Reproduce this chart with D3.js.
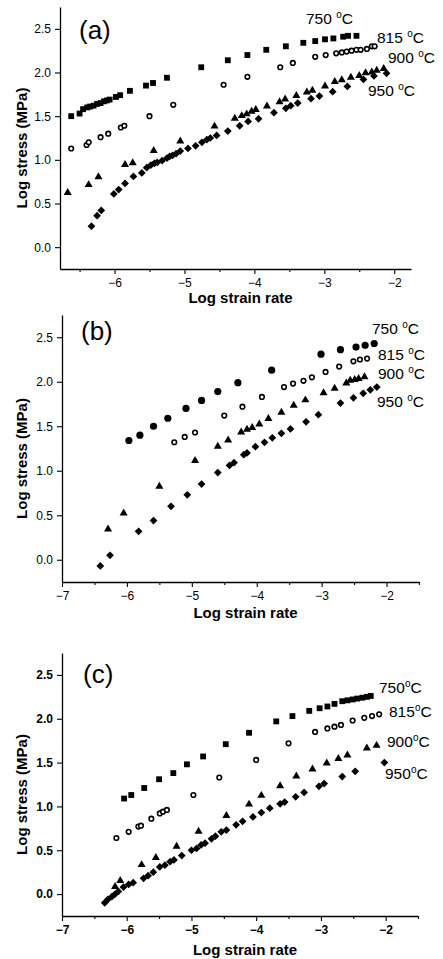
<!DOCTYPE html>
<html><head><meta charset="utf-8">
<script src="https://cdn.jsdelivr.net/npm/d3@7"></script>
<style>
html,body{margin:0;padding:0;background:#fff;}
svg{display:block;font-family:"Liberation Sans",Arial,sans-serif;}
</style></head>
<body><svg id="chart" width="443" height="959"></svg>
<script>
// ---------- DATA ----------
const temps = ["750", "815", "900", "950"];
const yTicks = [0.0, 0.5, 1.0, 1.5, 2.0, 2.5];
const xTicksA = [-6, -5, -4, -3, -2];
const xTicksBC = [-7, -6, -5, -4, -3, -2];

// panel (a)
const a750x = [-6.62,-6.50,-6.45,-6.39,-6.35,-6.30,-6.25,-6.20,-6.15,-6.11,-6.07,-5.98,-5.92,-5.78,-5.55,-5.45,-5.25,-4.76,-4.38,-4.10,-3.83,-3.55,-3.30,-3.13,-2.99,-2.87,-2.73,-2.66,-2.54];
const a750y = [1.50,1.53,1.58,1.60,1.61,1.62,1.64,1.65,1.67,1.68,1.69,1.72,1.74,1.79,1.85,1.88,1.94,2.06,2.14,2.20,2.26,2.30,2.34,2.36,2.38,2.39,2.41,2.42,2.42];
const a815x = [-6.62,-6.40,-6.37,-6.20,-6.09,-5.91,-5.86,-5.50,-5.16,-4.44,-4.10,-3.63,-3.45,-3.13,-2.98,-2.83,-2.75,-2.68,-2.61,-2.54,-2.48,-2.39,-2.32,-2.28];
const a815y = [1.13,1.17,1.20,1.26,1.30,1.37,1.39,1.50,1.63,1.86,1.95,2.06,2.11,2.18,2.20,2.22,2.23,2.24,2.25,2.26,2.26,2.27,2.30,2.30];
const a900x = [-6.67,-6.37,-6.23,-5.85,-5.74,-5.44,-5.06,-4.57,-4.28,-4.18,-4.11,-4.04,-3.98,-3.82,-3.64,-3.56,-3.40,-3.25,-3.17,-2.99,-2.85,-2.75,-2.62,-2.50,-2.41,-2.32,-2.25,-2.15];
const a900y = [0.63,0.72,0.81,0.95,0.97,1.11,1.22,1.39,1.48,1.51,1.53,1.56,1.58,1.62,1.67,1.70,1.74,1.78,1.80,1.85,1.90,1.92,1.95,1.97,2.00,2.01,2.03,2.05];
const a950x = [-6.33,-6.25,-6.19,-6.01,-5.94,-5.85,-5.73,-5.61,-5.54,-5.48,-5.43,-5.39,-5.32,-5.25,-5.21,-5.17,-5.12,-5.06,-4.95,-4.84,-4.75,-4.68,-4.63,-4.54,-4.38,-4.21,-4.09,-3.94,-3.72,-3.55,-3.48,-3.38,-3.19,-3.07,-2.88,-2.67,-2.44,-2.29,-2.11];
const a950y = [0.24,0.36,0.42,0.61,0.66,0.73,0.81,0.85,0.91,0.94,0.96,0.97,0.99,1.02,1.04,1.05,1.07,1.10,1.13,1.16,1.20,1.23,1.25,1.28,1.33,1.39,1.44,1.47,1.54,1.59,1.62,1.65,1.70,1.73,1.78,1.84,1.92,1.96,1.99];

// panel (b)
const b750x = [-5.97,-5.80,-5.59,-5.37,-5.09,-4.85,-4.60,-4.29,-3.77,-3.01,-2.71,-2.47,-2.33,-2.19];
const b750y = [1.34,1.40,1.50,1.59,1.70,1.79,1.89,1.99,2.13,2.31,2.36,2.39,2.41,2.43];
const b815x = [-5.27,-5.11,-4.95,-4.50,-4.22,-3.92,-3.58,-3.44,-3.28,-3.15,-2.94,-2.73,-2.51,-2.41,-2.30];
const b815y = [1.32,1.38,1.43,1.62,1.72,1.83,1.94,1.98,2.01,2.05,2.11,2.17,2.23,2.25,2.26];
const b900x = [-6.29,-6.05,-5.50,-4.95,-4.60,-4.44,-4.24,-4.15,-4.07,-3.96,-3.82,-3.62,-3.43,-3.25,-2.97,-2.80,-2.62,-2.56,-2.49,-2.43,-2.34];
const b900y = [0.35,0.53,0.83,1.12,1.28,1.35,1.44,1.47,1.49,1.53,1.59,1.66,1.74,1.80,1.88,1.93,1.99,2.02,2.03,2.04,2.06];
const b950x = [-6.41,-6.26,-5.82,-5.59,-5.32,-5.07,-4.85,-4.60,-4.42,-4.35,-4.20,-4.15,-4.02,-3.88,-3.76,-3.62,-3.48,-3.24,-3.05,-2.71,-2.51,-2.36,-2.25,-2.15];
const b950y = [-0.07,0.05,0.32,0.44,0.60,0.73,0.85,0.98,1.06,1.09,1.18,1.20,1.27,1.32,1.37,1.42,1.47,1.55,1.63,1.76,1.82,1.87,1.91,1.94];

// panel (c)
const c750x = [-6.04,-5.93,-5.73,-5.50,-5.28,-5.07,-4.82,-4.47,-4.11,-3.69,-3.44,-3.18,-3.02,-2.90,-2.79,-2.67,-2.59,-2.51,-2.44,-2.36,-2.29,-2.23];
const c750y = [1.09,1.13,1.21,1.31,1.38,1.48,1.57,1.71,1.84,1.97,2.03,2.09,2.12,2.14,2.17,2.20,2.21,2.22,2.23,2.24,2.25,2.26];
const c815x = [-6.16,-5.97,-5.82,-5.78,-5.62,-5.49,-5.44,-5.38,-4.97,-4.57,-4.00,-3.50,-3.09,-2.90,-2.79,-2.69,-2.51,-2.33,-2.21,-2.10];
const c815y = [0.64,0.71,0.77,0.78,0.86,0.92,0.94,0.96,1.13,1.33,1.53,1.72,1.85,1.89,1.91,1.93,1.98,2.01,2.03,2.05];
const c900x = [-6.18,-6.10,-5.77,-5.55,-5.23,-4.89,-4.46,-4.11,-3.92,-3.63,-3.38,-3.13,-2.91,-2.73,-2.59,-2.29,-2.14];
const c900y = [0.09,0.16,0.34,0.42,0.55,0.72,0.90,1.03,1.13,1.24,1.35,1.43,1.50,1.55,1.59,1.67,1.70];
const c950x = [-6.34,-6.29,-6.23,-6.18,-6.13,-6.05,-5.97,-5.90,-5.74,-5.67,-5.59,-5.49,-5.41,-5.33,-5.27,-5.15,-5.00,-4.92,-4.85,-4.79,-4.69,-4.63,-4.54,-4.46,-4.31,-4.21,-4.05,-3.92,-3.79,-3.63,-3.56,-3.39,-3.26,-3.03,-2.95,-2.67,-2.47,-2.02];
const c950y = [-0.10,-0.06,-0.03,0.00,0.03,0.08,0.11,0.13,0.18,0.21,0.25,0.31,0.33,0.37,0.39,0.44,0.50,0.52,0.56,0.58,0.63,0.66,0.71,0.73,0.79,0.83,0.88,0.93,0.98,1.03,1.05,1.11,1.16,1.23,1.26,1.34,1.40,1.50];

// ---------- DRAW ----------
const svg = d3.select("#chart");

const panels = [
  { tag: "(a)", left: 60, top: 7, right: 411, bottom: 269, xdom: [-6.78, -1.76], xt: xTicksA, boldTicks: false,
    series: [[a750x, a750y, "square"], [a815x, a815y, "ocircle"], [a900x, a900y, "triangle"], [a950x, a950y, "diamond"]],
    labels: [[306, 24, "750 "], [377, 43, "815 "], [388, 63, "900 "], [368, 96, "950 "]],
    tagPos: [79, 39], xTitleY: 303 },
  { tag: "(b)", left: 62, top: 315, right: 419, bottom: 582, xdom: [-7, -1.5], xt: xTicksBC, boldTicks: false,
    series: [[b750x, b750y, "circle"], [b815x, b815y, "ocircle"], [b900x, b900y, "triangle"], [b950x, b950y, "diamond"]],
    labels: [[372, 334, "750 "], [378, 360, "815 "], [378, 379, "900 "], [377, 407, "950 "]],
    tagPos: [81, 340], xTitleY: 618 },
  { tag: "(c)", left: 62, top: 653, right: 418, bottom: 916, xdom: [-7, -1.5], xt: xTicksBC, boldTicks: true,
    series: [[c750x, c750y, "square"], [c815x, c815y, "ocircle"], [c900x, c900y, "triangle"], [c950x, c950y, "diamond"]],
    labels: [[379, 693, "750"], [389, 717, "815"], [387, 747, "900"], [385, 779, "950"]],
    tagPos: [83, 683], xTitleY: 955 }
];

function drawMarker(g, kind, cx, cy) {
  if (kind === "square") {
    g.append("path").attr("d", d3.symbol(d3.symbolSquare, 34)()).attr("transform", `translate(${cx},${cy})`).attr("fill", "#000");
  } else if (kind === "diamond") {
    g.append("path").attr("d", d3.symbol(d3.symbolSquare, 30)()).attr("transform", `translate(${cx},${cy}) rotate(45)`).attr("fill", "#000");
  } else if (kind === "triangle") {
    g.append("path").attr("d", d3.symbol(d3.symbolTriangle, 28)()).attr("transform", `translate(${cx},${cy + 0.5})`).attr("fill", "#000");
  } else if (kind === "circle") {
    g.append("circle").attr("cx", cx).attr("cy", cy).attr("r", 3.6).attr("fill", "#000");
  } else if (kind === "ocircle") {
    g.append("circle").attr("cx", cx).attr("cy", cy).attr("r", 2.3).attr("fill", "#fff").attr("stroke", "#000").attr("stroke-width", 1.6);
  }
}

panels.forEach(p => {
  const x = d3.scaleLinear().domain(p.xdom).range([p.left, p.right]);
  const y = d3.scaleLinear().domain([-0.25, 2.75]).range([p.bottom, p.top]);
  const g = svg.append("g");

  // x axis
  const xMinor = d3.range(Math.ceil(p.xdom[0] * 2) / 2, p.xdom[1] + 0.001, 0.5).filter(v => Math.abs(v - Math.round(v)) > 0.01);
  g.append("g").attr("transform", `translate(0,${p.bottom})`)
    .call(d3.axisBottom(x).tickValues(xMinor).tickSize(3).tickFormat(""))
    .call(a => a.select(".domain").remove());
  const xa = g.append("g").attr("transform", `translate(0,${p.bottom})`)
    .call(d3.axisBottom(x).tickValues(p.xt).tickSize(5).tickSizeOuter(0).tickPadding(4).tickFormat(d3.format("d")));
  xa.selectAll("text").attr("font-size", 12).attr("font-family", "Liberation Sans, Arial, sans-serif")
    .attr("font-weight", p.boldTicks ? "bold" : "normal").attr("fill", "#000");

  // y axis
  const ya = g.append("g").attr("transform", `translate(${p.left},0)`)
    .call(d3.axisLeft(y).tickValues(yTicks).tickSize(5).tickSizeOuter(0).tickPadding(4).tickFormat(d3.format(".1f")));
  ya.selectAll("text").attr("font-size", 12).attr("font-family", "Liberation Sans, Arial, sans-serif")
    .attr("font-weight", p.boldTicks ? "bold" : "normal").attr("fill", "#000");
  g.selectAll(".domain").attr("stroke-width", 1.3);
  g.selectAll(".tick line").attr("stroke-width", 1.1);

  // axis titles
  g.append("text").attr("x", (p.left + p.right) / 2 + 5).attr("y", p.xTitleY).attr("text-anchor", "middle")
    .attr("font-size", 15).attr("font-weight", "bold").text("Log strain rate");
  g.append("text").attr("transform", `translate(27,${(p.top + p.bottom) / 2 + 10}) rotate(-90)`).attr("text-anchor", "middle")
    .attr("font-size", 15).attr("font-weight", "bold").text("Log stress (MPa)");

  // panel tag
  g.append("text").attr("x", p.tagPos[0]).attr("y", p.tagPos[1]).attr("font-size", 26).text(p.tag);

  // series
  p.series.forEach(([xs, ys, kind]) => {
    xs.forEach((v, i) => drawMarker(g, kind, x(v), y(ys[i])));
  });

  // temperature labels
  p.labels.forEach(([lx, ly, t]) => {
    const tx = g.append("text").attr("x", lx).attr("y", ly).attr("font-size", 15.5);
    tx.append("tspan").text(t);
    tx.append("tspan").attr("dy", -6).attr("font-size", 10).text("o");
    tx.append("tspan").attr("dy", 6).text("C");
  });
});
</script>
</body></html>
